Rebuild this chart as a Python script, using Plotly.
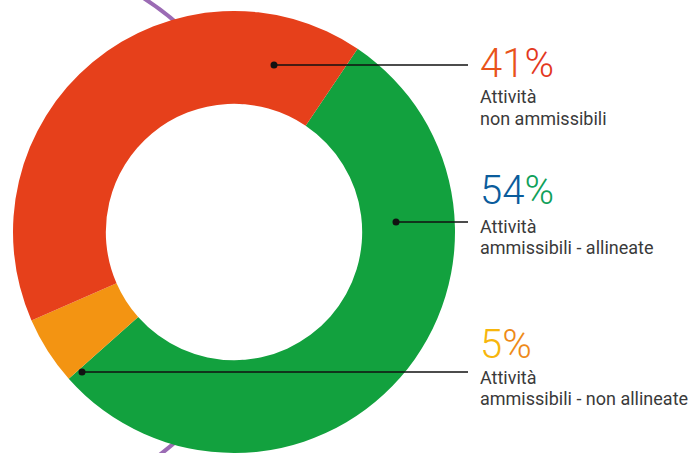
import plotly.graph_objects as go

W, H = 694, 453

# Slice data, clockwise from the green segment
labels = ["Attività<br>ammissibili - allineate",
          "Attività<br>ammissibili - non allineate",
          "Attività<br>non ammissibili"]
values = [54, 5, 41]
slice_colors = ["#12a13e", "#f39412", "#e6401b"]
# two-tone colours for the percentage labels (start, end)
pct_colors = [("#0a5c9c", "#10a05a"), ("#f7b60c", "#ee8a18"), ("#e8531a", "#e3381e")]

# label placement (pixel rows: percentage, first text line) and leader-dot positions
label_rows = [(191, 226), (344, 377), (63, 97)]
dots = [(396, 222), (82, 372), (274, 65)]
line_rows = [222, 372, 65]


def px(x):
    return x / W


def py(y):
    return 1 - y / H


# donut centred at (234, 232) with radius ~221 px
cx, cy, r = 234, 232, 221
hole = 0.58
fig = go.Figure(go.Pie(
    labels=labels,
    values=values,
    sort=False,
    direction="clockwise",
    rotation=34,
    hole=hole,
    marker=dict(colors=slice_colors, line=dict(width=0)),
    textinfo="none",
    hoverinfo="label+percent",
    showlegend=False,
    domain=dict(x=[px(cx - r), px(cx + r)], y=[py(cy + r), py(cy - r)]),
))

ri = r * hole
shapes = [
    # decorative purple ring behind the donut
    dict(type="circle", xref="paper", yref="paper", layer="below",
         x0=px(-5 - 277), x1=px(-5 + 277), y0=py(232 + 277), y1=py(232 - 277),
         line=dict(color="#9b6bb4", width=4)),
    # keep the donut centre clear
    dict(type="circle", xref="paper", yref="paper", layer="below",
         x0=px(cx - ri), x1=px(cx + ri), y0=py(cy + ri), y1=py(cy - ri),
         fillcolor="white", line=dict(width=0)),
]
annotations = []

for v, (c1, c2), (row_pct, row_txt), (dx, dy), ly, lab in zip(
        values, pct_colors, label_rows, dots, line_rows, labels):
    shapes.append(dict(type="line", xref="paper", yref="paper",
                       x0=px(dx), x1=px(468), y0=py(ly), y1=py(ly),
                       line=dict(color="#111111", width=1.5)))
    shapes.append(dict(type="circle", xref="paper", yref="paper",
                       x0=px(dx - 3.5), x1=px(dx + 3.5),
                       y0=py(dy + 3.5), y1=py(dy - 3.5),
                       fillcolor="#111111", line=dict(width=0)))
    s = f"{v}%"
    digits, pct = s[:-1], s[-1]
    rich = f"<span style='color:{c1}'>{digits}</span><span style='color:{c2}'>{pct}</span>"
    annotations.append(dict(xref="paper", yref="paper", x=px(478), y=py(row_pct),
                            xanchor="left", yanchor="middle", showarrow=False,
                            text=rich, font=dict(family="Roboto", size=40, weight=300)))
    for i, line in enumerate(lab.split("<br>")):
        annotations.append(dict(xref="paper", yref="paper", x=px(478), y=py(row_txt + 21 * i),
                                xanchor="left", yanchor="middle", showarrow=False,
                                text=line, font=dict(family="Roboto", size=18, color="#3a3a3a")))

fig.update_layout(
    width=W, height=H,
    margin=dict(l=0, r=0, t=0, b=0),
    paper_bgcolor="white", plot_bgcolor="white",
    shapes=shapes, annotations=annotations,
)

fig.write_html("out.html")
